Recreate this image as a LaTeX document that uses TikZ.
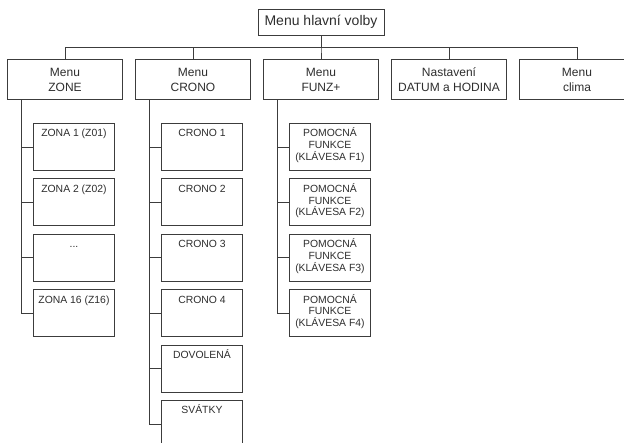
\documentclass[tikz,border=0pt]{standalone}
\usepackage{fontspec}
\setmainfont{Liberation Sans}
\definecolor{linec}{HTML}{3C3C3C}
\definecolor{txtc}{HTML}{2E2E2E}
\newcommand\subtxt[1]{\parbox[t][47pt][t]{81pt}{\centering\rule{0pt}{13.5pt}#1}}
\tikzset{
  conn/.style={draw=linec, line width=0.9pt},
  topbox/.style={draw=linec, line width=0.9pt, text=txtc, inner sep=0pt, minimum width=126pt, minimum height=26pt, font=\fontsize{14}{16}\selectfont},
  lvlbox/.style={draw=linec, line width=0.9pt, fill=white, text=txtc, inner sep=0pt, minimum width=115pt, minimum height=40pt, align=center, font=\fontsize{12}{15}\selectfont, anchor=north},
  subbox/.style={draw=linec, line width=0.9pt, fill=white, text=txtc, inner sep=0pt, anchor=north west, font=\fontsize{10.4}{11.7}\selectfont},
}
\begin{document}
\begin{tikzpicture}[x=1pt,y=-1pt]
\useasboundingbox (0,0) rectangle (624,442);
% top
\node[topbox] (top) at (321,22) {Menu hlavní volby};
% level 1
\node[lvlbox] (zone)  at (65,59)  {Menu\\ZONE};
\node[lvlbox] (crono) at (193,59) {Menu\\CRONO};
\node[lvlbox] (funz)  at (321,59) {Menu\\FUNZ+};
\node[lvlbox] (datum) at (449,59) {Nastavení\\DATUM a HODINA};
\node[lvlbox] (clima) at (577,59) {Menu\\clima};
\foreach \c in {zone,crono,funz,datum,clima}
  \draw[conn] (top.south) -- ++(0,12) -| (\c.north);
% ZONE column
\node[subbox] (z1) at (33,123)   {\subtxt{ZONA 1 (Z01)}};
\node[subbox] (z2) at (33,178.4) {\subtxt{ZONA 2 (Z02)}};
\node[subbox] (z3) at (33,233.8) {\subtxt{...}};
\node[subbox] (z4) at (33,289.2) {\subtxt{ZONA 16 (Z16)}};
\foreach \s in {z1,z2,z3,z4}
  \draw[conn] ([xshift=14pt]zone.south west) |- (\s.west);
% CRONO column
\node[subbox] (c1) at (161,123)   {\subtxt{CRONO 1}};
\node[subbox] (c2) at (161,178.4) {\subtxt{CRONO 2}};
\node[subbox] (c3) at (161,233.8) {\subtxt{CRONO 3}};
\node[subbox] (c4) at (161,289.2) {\subtxt{CRONO 4}};
\node[subbox] (c5) at (161,344.6) {\subtxt{DOVOLENÁ}};
\node[subbox] (c6) at (161,400)   {\subtxt{SVÁTKY}};
\foreach \s in {c1,c2,c3,c4,c5,c6}
  \draw[conn] ([xshift=14pt]crono.south west) |- (\s.west);
% FUNZ column
\node[subbox] (f1) at (289,123)   {\subtxt{POMOCNÁ\\FUNKCE\\(KLÁVESA F1)}};
\node[subbox] (f2) at (289,178.4) {\subtxt{POMOCNÁ\\FUNKCE\\(KLÁVESA F2)}};
\node[subbox] (f3) at (289,233.8) {\subtxt{POMOCNÁ\\FUNKCE\\(KLÁVESA F3)}};
\node[subbox] (f4) at (289,289.2) {\subtxt{POMOCNÁ\\FUNKCE\\(KLÁVESA F4)}};
\foreach \s in {f1,f2,f3,f4}
  \draw[conn] ([xshift=14pt]funz.south west) |- (\s.west);
\end{tikzpicture}
\end{document}
